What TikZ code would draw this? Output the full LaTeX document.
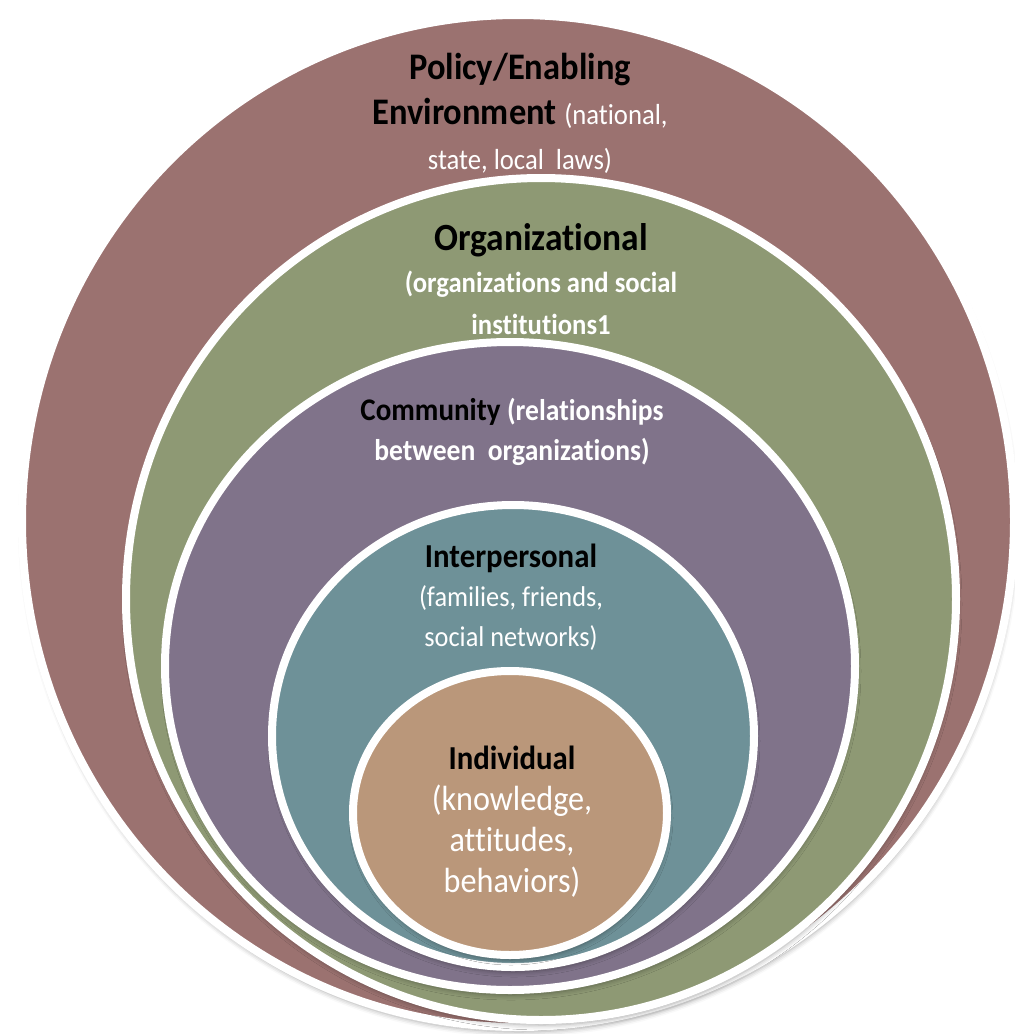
\documentclass[tikz,border=0pt]{standalone}
\usepackage{fontspec}
\setmainfont{Carlito}[FakeStretch=0.92, Ligatures=NoCommon]
\usepackage{tikz}
\usetikzlibrary{shapes.geometric}
\usetikzlibrary{shadows.blur}
\definecolor{policy_col}{RGB}{155,114,112}
\definecolor{org_col}{RGB}{142,153,116}
\definecolor{comm_col}{RGB}{128,115,138}
\definecolor{inter_col}{RGB}{110,145,152}
\definecolor{indiv_col}{RGB}{186,151,122}
\tikzset{my_ring/.style={ellipse, draw=white, line width=8pt, inner sep=0pt,
    blur shadow={shadow xshift=1pt, shadow yshift=-5pt, shadow blur radius=5pt, shadow opacity=35}}}
\tikzset{my_label/.style={align=center, text=black, inner sep=0pt}}
\newcommand{\wnote}[1]{\textcolor{white}{\mdseries #1}}
\newcommand{\wbold}[1]{\textcolor{white}{\bfseries #1}}

\begin{document}
\begin{tikzpicture}[x=1pt,y=-1pt]
    \useasboundingbox (0,0) rectangle (1015,1034);
    % nested levels, outermost first
    \node[my_ring, fill=policy_col, minimum width=992, minimum height=1012] (policy) at (518,521) {};
    \node[my_ring, fill=org_col, minimum width=830, minimum height=842] (org) at (541,599) {};
    \node[my_ring, fill=comm_col, minimum width=690, minimum height=648] (comm) at (510,666) {};
    \node[my_ring, fill=inter_col, minimum width=482, minimum height=462] (inter) at (513,736) {};
    \node[my_ring, fill=indiv_col, minimum width=314, minimum height=284] (indiv) at (510,813) {};

    % level names
    \node[my_label, font=\bfseries\fontsize{37.5}{45}\selectfont] (policy_txt) at (520,113)
        {Policy/Enabling\\Environment \wnote{\fontsize{29}{45}\selectfont(national,}\\\wnote{\fontsize{29}{45}\selectfont state, local\ \ laws)}};
    \node[my_label, font=\bfseries\fontsize{38.5}{42}\selectfont] (org_txt) at (541,279)
        {Organizational\\\wbold{\fontsize{29}{42}\selectfont(organizations and social}\\\wbold{\fontsize{29}{42}\selectfont institutions1}};
    \node[my_label, font=\bfseries\fontsize{31.5}{40}\selectfont] (comm_txt) at (512,432)
        {Community \wbold{\fontsize{30}{40}\selectfont(relationships}\\\wbold{\fontsize{30}{40}\selectfont between\ \ organizations)}};
    \node[my_label, font=\bfseries\fontsize{33.5}{39.5}\selectfont] (inter_txt) at (511,597)
        {Interpersonal\\\wnote{\fontsize{28.6}{39.5}\selectfont(families, friends,}\\\wnote{\fontsize{28.6}{39.5}\selectfont social networks)}};
    \node[my_label, font=\bfseries\fontsize{33.5}{41}\selectfont] (indiv_txt) at (512,822)
        {Individual\\\wnote{\fontsize{35}{41}\selectfont(knowledge,}\\\wnote{\fontsize{35}{41}\selectfont attitudes,}\\\wnote{\fontsize{35}{41}\selectfont behaviors)}};
\end{tikzpicture}
\end{document}
